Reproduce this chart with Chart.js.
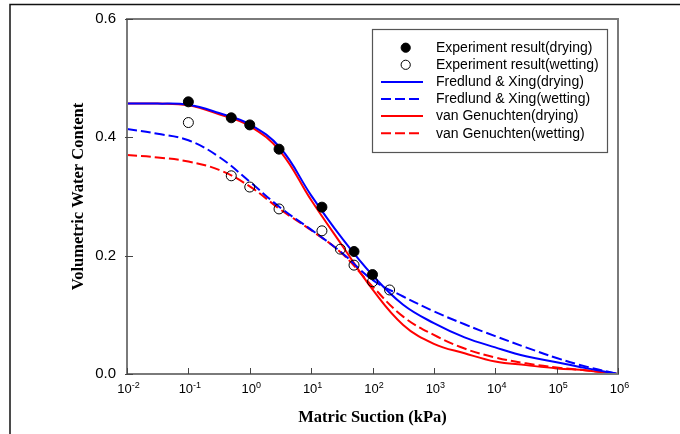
<!DOCTYPE html>
<html>
<head>
<meta charset="utf-8">
<title>SWCC</title>
<script src="https://cdn.jsdelivr.net/npm/chart.js@4.4.1/dist/chart.umd.min.js"></script>
<style>
  html, body { margin: 0; padding: 0; background: #fff; }
  canvas { display: block; }
</style>
</head>
<body>
<canvas id="swcc" width="680" height="434"></canvas>
<script>
// ─── Measured points ──────────────────────────────────────────────
const dryingSuction  = [0.1, 0.5, 1, 3, 15, 50, 100];
const dryingTheta    = [0.460, 0.433, 0.421, 0.380, 0.282, 0.207, 0.168];
const wettingSuction = [0.1, 0.5, 1, 3, 15, 30, 50, 100, 190];
const wettingTheta   = [0.425, 0.335, 0.316, 0.279, 0.242, 0.211, 0.184, 0.156, 0.142];

// ─── Fitted curves, one value per half decade ─────────────────────
const curveSuction = [0.01, 0.0316, 0.1, 0.316, 1, 3.16, 10, 31.6, 100, 316, 1000, 3162, 1e4, 31623, 1e5, 316228, 1e6];
const fxDrying  = [0.457, 0.457, 0.455, 0.441, 0.422, 0.382, 0.302, 0.230, 0.167, 0.117, 0.086, 0.062, 0.045, 0.030, 0.020, 0.0095, 0.0];
const fxWetting = [0.414, 0.406, 0.395, 0.367, 0.325, 0.281, 0.244, 0.205, 0.159, 0.131, 0.106, 0.084, 0.064, 0.045, 0.027, 0.012, 0.0];
const vgDrying  = [0.457, 0.457, 0.454, 0.439, 0.419, 0.376, 0.294, 0.218, 0.143, 0.083, 0.051, 0.035, 0.021, 0.015, 0.0095, 0.006, 0.0];
const vgWetting = [0.370, 0.366, 0.359, 0.345, 0.317, 0.278, 0.243, 0.204, 0.148, 0.097, 0.066, 0.043, 0.028, 0.018, 0.011, 0.006, 0.0];

// ─── Axes ─────────────────────────────────────────────────────────
const xTickExp = [-2, -1, 0, 1, 2, 3, 4, 5, 6];
const yTicks   = [0, 0.2, 0.4, 0.6];

const legendLabels = [
  'Experiment result(drying)',
  'Experiment result(wetting)',
  'Fredlund & Xing(drying)',
  'Fredlund & Xing(wetting)',
  'van Genuchten(drying)',
  'van Genuchten(wetting)'
];

const BLUE = '#0000ff';
const RED  = '#ff0000';
const DASH = [10, 4];

const pairs = (xs, ys) => xs.map((x, i) => ({ x, y: ys[i] }));

function curve(label, values, color, dashed) {
  return {
    label,
    data: pairs(curveSuction, values),
    borderColor: color,
    borderWidth: 2,
    borderDash: dashed ? DASH : [],
    pointRadius: 0,
    fill: false,
    tension: 0.4
  };
}

// frame, inner ticks, superscript labels, titles and boxed legend
const decorations = {
  id: 'decorations',
  beforeDraw(chart) {
    const ctx = chart.ctx;
    ctx.save();
    ctx.strokeStyle = '#111';
    ctx.lineWidth = 1.5;
    ctx.strokeRect(10, 4.5, 700, 500);
    ctx.restore();
  },
  afterDraw(chart) {
    const { ctx, chartArea: a, scales } = chart;
    const xs = scales.x, ys = scales.y;
    ctx.save();

    // plot frame
    ctx.strokeStyle = '#7a7a7a';
    ctx.lineWidth = 2;
    ctx.strokeRect(a.left, a.top, a.right - a.left, a.bottom - a.top);

    // inward ticks
    ctx.strokeStyle = '#444';
    ctx.lineWidth = 1;
    ctx.beginPath();
    xTickExp.forEach(e => {
      const px = Math.round(xs.getPixelForValue(Math.pow(10, e))) + 0.5;
      ctx.moveTo(px, a.bottom);
      ctx.lineTo(px, a.bottom - 6);
    });
    yTicks.forEach(v => {
      const py = Math.round(ys.getPixelForValue(v)) + 0.5;
      ctx.moveTo(a.left - 2, py);
      ctx.lineTo(a.left + 6, py);
    });
    ctx.stroke();

    // 10^n labels
    ctx.fillStyle = '#000';
    ctx.textBaseline = 'alphabetic';
    ctx.textAlign = 'left';
    xTickExp.forEach(e => {
      const px = xs.getPixelForValue(Math.pow(10, e));
      ctx.font = '13px "Liberation Sans", Arial, sans-serif';
      const wb = ctx.measureText('10').width;
      ctx.font = '9px "Liberation Sans", Arial, sans-serif';
      const sup = String(e);
      const ws = ctx.measureText(sup).width;
      const x0 = px - (wb + ws) / 2 + 1.5;
      ctx.font = '13px "Liberation Sans", Arial, sans-serif';
      ctx.fillText('10', x0, 393);
      ctx.font = '9px "Liberation Sans", Arial, sans-serif';
      ctx.fillText(sup, x0 + wb, 388);
    });

    // axis titles
    ctx.font = 'bold 16.5px "Liberation Serif", "Times New Roman", serif';
    ctx.textAlign = 'center';
    ctx.textBaseline = 'middle';
    ctx.fillText('Matric Suction (kPa)', (a.left + a.right) / 2, 418);
    ctx.save();
    ctx.translate(79, (a.top + a.bottom) / 2);
    ctx.rotate(-Math.PI / 2);
    ctx.fillText('Volumetric Water Content', 0, 0);
    ctx.restore();

    // legend
    const box = { x: 372.5, y: 29.5, w: 235, h: 123 };
    ctx.fillStyle = '#fff';
    ctx.fillRect(box.x, box.y, box.w, box.h);
    ctx.strokeStyle = '#555';
    ctx.lineWidth = 1.2;
    ctx.strokeRect(box.x, box.y, box.w, box.h);

    const sets = chart.data.datasets;
    ctx.font = '14px "Liberation Sans", Arial, sans-serif';
    ctx.textAlign = 'left';
    ctx.textBaseline = 'middle';
    legendLabels.forEach((label, i) => {
      const ds = sets[i];
      const cy = 47.7 + i * 17.1;
      if (ds.showLine === false) {
        ctx.beginPath();
        ctx.arc(405.7, cy, 4.6, 0, Math.PI * 2);
        ctx.fillStyle = ds.pointBackgroundColor;
        ctx.fill();
        ctx.strokeStyle = '#000';
        ctx.lineWidth = 1;
        ctx.stroke();
      } else {
        ctx.beginPath();
        ctx.setLineDash(ds.borderDash);
        ctx.strokeStyle = ds.borderColor;
        ctx.lineWidth = 2;
        ctx.moveTo(381, cy);
        ctx.lineTo(423, cy);
        ctx.stroke();
        ctx.setLineDash([]);
      }
      ctx.fillStyle = '#000';
      ctx.fillText(label, 436, cy + 0.5);
    });

    ctx.restore();
  }
};

new Chart(document.getElementById('swcc'), {
  type: 'line',
  data: {
    datasets: [
      {
        label: legendLabels[0],
        data: pairs(dryingSuction, dryingTheta),
        showLine: false,
        pointRadius: 5,
        pointBackgroundColor: '#000',
        pointBorderColor: '#000',
        pointBorderWidth: 1
      },
      {
        label: legendLabels[1],
        data: pairs(wettingSuction, wettingTheta),
        showLine: false,
        pointRadius: 5,
        pointBackgroundColor: 'rgba(255,255,255,0)',
        pointBorderColor: '#000',
        pointBorderWidth: 1
      },
      curve(legendLabels[2], fxDrying, BLUE, false),
      curve(legendLabels[3], fxWetting, BLUE, true),
      curve(legendLabels[4], vgDrying, RED, false),
      curve(legendLabels[5], vgWetting, RED, true)
    ]
  },
  options: {
    responsive: false,
    animation: false,
    events: [],
    layout: { padding: { left: 0, right: 62, top: 19, bottom: 0 } },
    plugins: {
      legend: { display: false },
      tooltip: { enabled: false }
    },
    scales: {
      x: {
        type: 'logarithmic',
        min: 0.01,
        max: 1e6,
        grid: { display: false },
        border: { display: false },
        ticks: { display: false },
        afterFit: s => { s.height = 60; }
      },
      y: {
        min: 0,
        max: 0.6,
        grid: { display: false },
        border: { display: false },
        afterBuildTicks: s => { s.ticks = yTicks.map(v => ({ value: v })); },
        ticks: {
          padding: 3,
          color: '#000',
          font: { family: '"Liberation Sans", Arial, sans-serif', size: 15 },
          callback: v => v.toFixed(1)
        },
        afterFit: s => { s.width = 127; }
      }
    }
  },
  plugins: [decorations]
});
</script>
</body>
</html>
